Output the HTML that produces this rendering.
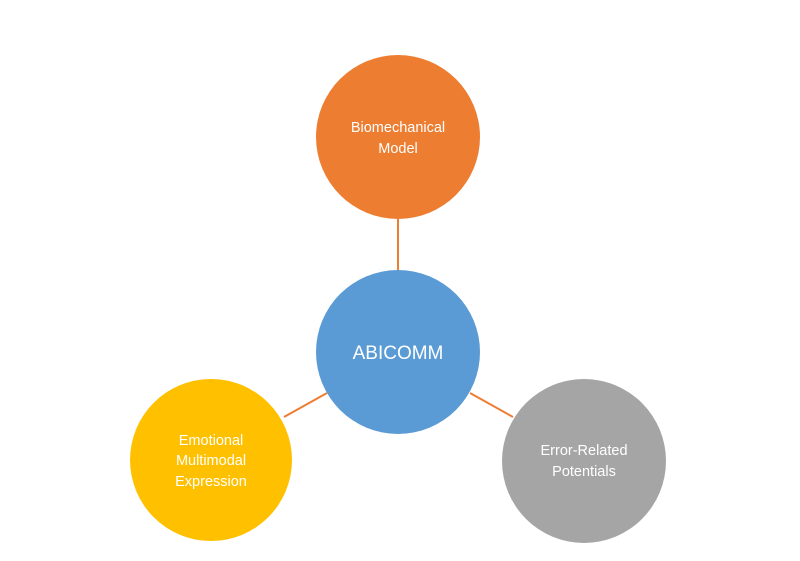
<!DOCTYPE html>
<html><head><meta charset="utf-8"><style>
html,body{margin:0;padding:0;background:#fff;}
svg{display:block;}
text{font-family:"Liberation Sans",sans-serif;fill:#fff;text-anchor:middle;}
</style></head><body>
<svg width="800" height="561" viewBox="0 0 800 561">
<g stroke="#ED7D31" stroke-width="2">
<line x1="398" y1="219" x2="398" y2="270"/>
<line x1="284" y1="417" x2="327" y2="393"/>
<line x1="470" y1="393" x2="513" y2="417"/>
</g>
<circle cx="398" cy="137" r="82" fill="#ED7D31"/>
<circle cx="398" cy="352" r="82" fill="#5B9BD5"/>
<circle cx="211" cy="460" r="81" fill="#FFC000"/>
<circle cx="584" cy="461" r="82" fill="#A5A5A5"/>
<text x="398" y="132" font-size="14.5">Biomechanical</text>
<text x="398" y="153" font-size="14.5">Model</text>
<text x="398" y="359" font-size="19">ABICOMM</text>
<text x="211" y="445" font-size="14.5">Emotional</text>
<text x="211" y="465" font-size="14.5">Multimodal</text>
<text x="211" y="486" font-size="14.5">Expression</text>
<text x="584" y="455" font-size="14.5">Error-Related</text>
<text x="584" y="476" font-size="14.5">Potentials</text>
</svg>
</body></html>
